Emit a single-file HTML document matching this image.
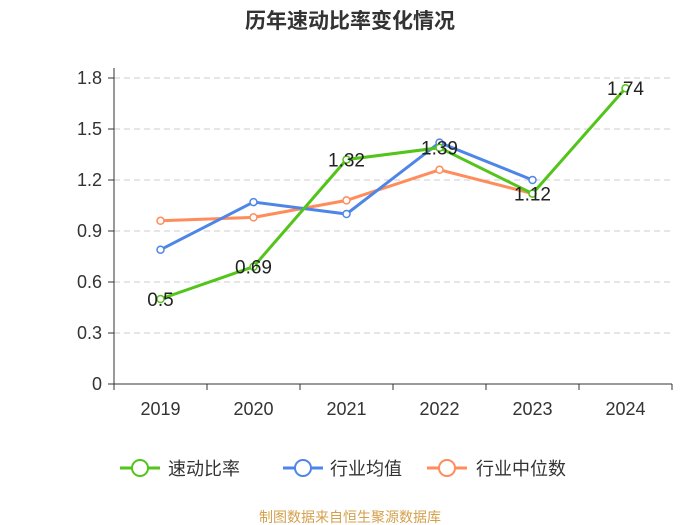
<!DOCTYPE html>
<html><head><meta charset="utf-8"><style>
body{margin:0;background:#fff;}
svg{display:block;font-family:"Liberation Sans","Noto Sans CJK SC",sans-serif;}
</style></head><body>
<svg id="c" width="700" height="525">
<text x="350" y="28" text-anchor="middle" font-size="21" font-weight="bold" fill="#333">历年速动比率变化情况</text>
<g id="grid"></g><g id="axes"></g><g id="series"></g>
<g>
<g><line x1="120" y1="468" x2="160" y2="468" stroke="#52c41a" stroke-width="3"/><circle cx="140" cy="468" r="8" fill="#fff" stroke="#52c41a" stroke-width="2"/><text x="168" y="475" font-size="18" fill="#333">速动比率</text></g>
<g><line x1="283" y1="468" x2="323" y2="468" stroke="#4e86e8" stroke-width="3"/><circle cx="303" cy="468" r="8" fill="#fff" stroke="#4e86e8" stroke-width="2"/><text x="330" y="475" font-size="18" fill="#333">行业均值</text></g>
<g><line x1="427" y1="468" x2="467" y2="468" stroke="#ff8c5a" stroke-width="3"/><circle cx="447" cy="468" r="8" fill="#fff" stroke="#ff8c5a" stroke-width="2"/><text x="476" y="475" font-size="18" fill="#333">行业中位数</text></g>
</g>
<text x="350" y="522" text-anchor="middle" font-size="14" fill="#d4a04c">制图数据来自恒生聚源数据库</text>
</svg>
<script>
const categories=["2019","2020","2021","2022","2023","2024"];
const quickRatio=[0.5,0.69,1.32,1.39,1.12,1.74];
const industryMean=[0.79,1.07,1.00,1.42,1.20,null];
const industryMedian=[0.96,0.98,1.08,1.26,1.12,null];
const yTicks=[0,0.3,0.6,0.9,1.2,1.5,1.8];
const yTickLabels=["0","0.3","0.6","0.9","1.2","1.5","1.8"];
const NS="http://www.w3.org/2000/svg";
const L=114,R=672,T=78,B=384;
const bw=(R-L)/categories.length;
const x=i=>L+bw*(i+0.5);
const y=v=>B-(v/1.8)*(B-T);
function mk(t,a,p){const e=document.createElementNS(NS,t);for(const k in a)e.setAttribute(k,a[k]);p.appendChild(e);return e;}
const grid=document.getElementById('grid'),axes=document.getElementById('axes'),ser=document.getElementById('series');
yTicks.forEach((v,i)=>{
 if(v>0){const g=mk('line',{x1:L,x2:R,y1:y(v),y2:y(v),stroke:'#ccc','stroke-dasharray':'6,4'},grid);
 
 }
 mk('line',{x1:L-6,x2:L,y1:y(v),y2:y(v),stroke:'#333'},axes);
 const t=mk('text',{x:L-12,y:y(v)+6,'text-anchor':'end','font-size':18,fill:'#333'},axes);t.textContent=yTickLabels[i];
 
 
});
mk('line',{x1:L,x2:L,y1:T-10,y2:B,stroke:'#333'},axes);
mk('line',{x1:L,x2:R,y1:B,y2:B,stroke:'#333'},axes);
for(let i=0;i<=categories.length;i++)mk('line',{x1:L+bw*i,x2:L+bw*i,y1:B,y2:B+6,stroke:'#333'},axes);
categories.forEach((c,i)=>{const t=mk('text',{x:x(i),y:B+31,'text-anchor':'middle','font-size':18,fill:'#333'},axes);t.textContent=c;
 
 });
function draw(data,color,name,labels){
 const pts=data.map((v,i)=>v==null?null:[x(i),y(v)]).filter(p=>p);
 const pl=mk('polyline',{points:pts.map(p=>p.join(',')).join(' '),fill:'none',stroke:color,'stroke-width':3},ser);
 
 
 data.forEach((v,i)=>{if(v==null)return;
  const c=mk('circle',{cx:x(i),cy:y(v),r:3.5,fill:'#fff',stroke:color,'stroke-width':1.5},ser);
  
  
 });
}
draw(industryMedian,'#ff8c5a','industry-median');
draw(industryMean,'#4e86e8','industry-mean');
draw(quickRatio,'#52c41a','quick-ratio');
quickRatio.forEach((v,i)=>{const t=mk('text',{x:x(i),y:y(v)+7,'text-anchor':'middle','font-size':19,fill:'#222'},ser);t.textContent=String(v);
 
 });
</script>
</body></html>
